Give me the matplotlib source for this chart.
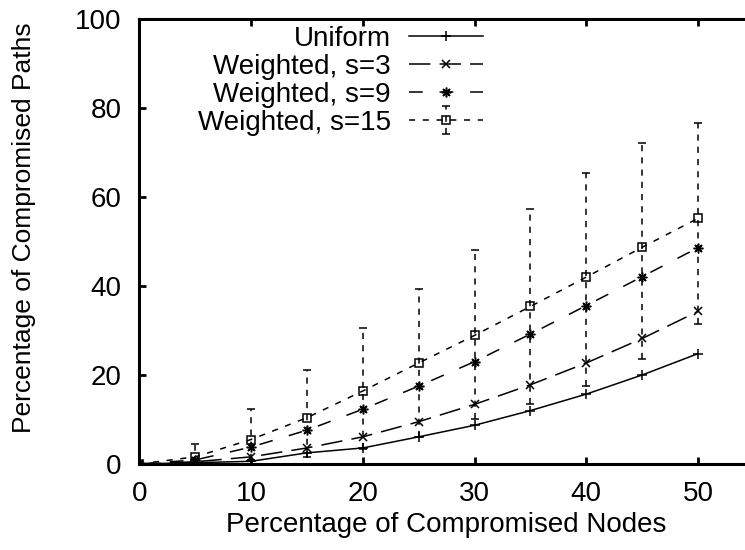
import matplotlib.pyplot as plt
import numpy as np

plt.rcParams['font.family'] = ['Liberation Sans', 'DejaVu Sans']

nodes = [0, 5, 10, 15, 20, 25, 30, 35, 40, 45, 50]
uniform = [0, 0.3, 0.6, 2.5, 3.6, 6.1, 8.7, 12.0, 15.7, 20.0, 24.8]
weighted3 = [0, 0.5, 1.6, 3.6, 6.1, 9.5, 13.4, 17.8, 22.7, 28.2, 34.3]
weighted9 = [0, 0.9, 3.8, 7.6, 12.3, 17.5, 23.0, 29.2, 35.6, 42.1, 48.6]
weighted15 = [0, 1.6, 5.5, 10.4, 16.4, 22.7, 28.9, 35.4, 42.0, 48.7, 55.2]
weighted15_low = [0, 0.3, 0.9, 1.6, 3.4, 6.0, 10.0, 13.4, 17.5, 23.7, 31.5]
weighted15_high = [0, 4.4, 12.4, 21.1, 30.5, 39.3, 48.0, 57.3, 65.5, 72.2, 76.7]

fig = plt.figure(figsize=(7.45, 5.5), dpi=100)
ax = fig.add_axes([0.187, 0.1564, 0.813, 0.8091])

lw = 1.1
ax.plot(nodes, uniform, color='k', lw=lw, linestyle='-', marker='+', ms=7, mew=1.1,
        label='Uniform')
ax.plot(nodes, weighted3, color='k', lw=lw, linestyle=(0, (14, 6)), marker='x', ms=6, mew=1.1,
        label='Weighted, s=3')
ax.plot(nodes, weighted9, color='k', lw=lw, linestyle=(0, (9, 11)), marker=(8, 2, 0), ms=7, mew=1.1,
        label='Weighted, s=9')

# only the s=15 series has error bars
s15 = np.array(weighted15)
yerr = [s15 - np.array(weighted15_low), np.array(weighted15_high) - s15]
eb = ax.errorbar(nodes, weighted15, yerr=yerr, color='k', lw=lw, linestyle=(0, (4, 5)),
                 marker='s', ms=6, mfc='none', mew=1.1, capsize=3, capthick=1.1,
                 elinewidth=lw, label='Weighted, s=15')
for bars in eb[2]:
    bars.set_linestyle((0, (4, 4)))

ax.set_xlim(0, 54.2)
ax.set_ylim(0, 100)
ax.set_xticks([0, 10, 20, 30, 40, 50])
ax.set_yticks([0, 20, 40, 60, 80, 100])
ax.tick_params(direction='in', length=5, width=2, labelsize=20, top=True)
ax.tick_params(axis='x', pad=12)
ax.tick_params(axis='y', pad=13)
for side in ['left', 'bottom', 'top']:
    ax.spines[side].set_linewidth(2.2)
ax.spines['right'].set_visible(False)

ax.set_xlabel('Percentage of Compromised Nodes', fontsize=20)
ax.set_ylabel('Percentage of Compromised Paths', fontsize=19)
ax.xaxis.set_label_coords(0.507, -0.107)
ax.yaxis.set_label_coords(-0.17, 0.53)

ax.legend(loc='upper right', bbox_to_anchor=(0.567, 0.984), frameon=False, markerfirst=False,
          fontsize=20, handlelength=2.66, labelspacing=0.07, handletextpad=0.65,
          borderaxespad=0, borderpad=0)

plt.savefig('out.png', dpi=100)
